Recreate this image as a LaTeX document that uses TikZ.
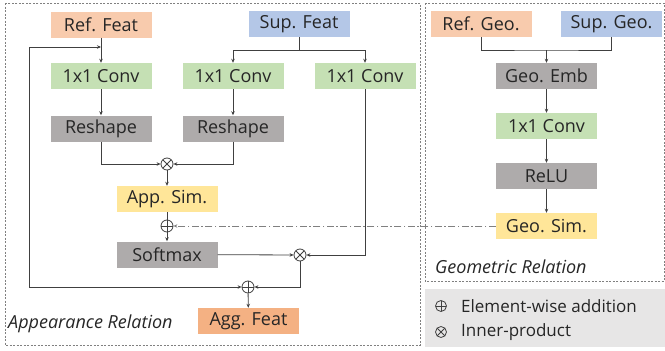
\documentclass[tikz,border=0pt]{standalone}
\usepackage{fontspec}
\setmainfont{Open Sans}
\usetikzlibrary{arrows.meta,calc}
\definecolor{cref}{HTML}{F8CBAD}
\definecolor{csup}{HTML}{B4C7E7}
\definecolor{cgreen}{HTML}{C5E0B4}
\definecolor{cgray}{HTML}{AEABAB}
\definecolor{cyel}{HTML}{FFE699}
\definecolor{cagg}{HTML}{F4B183}
\definecolor{cleg}{HTML}{E7E6E6}
\definecolor{cline}{HTML}{404040}
\definecolor{ctext}{HTML}{262626}
\tikzset{
  blk/.style={minimum width=101pt,minimum height=26pt,inner sep=0pt,font=\fontsize{18}{20}\selectfont,text=ctext},
  arr/.style={draw=cline,line width=0.8pt,-{Stealth[length=4pt,width=3.5pt]}},
  ln/.style={draw=cline,line width=0.8pt},
  opl/.style={circle,draw=cline,line width=0.8pt,minimum size=12pt,inner sep=0pt,
    path picture={\draw[cline,line width=0.8pt] (path picture bounding box.north)--(path picture bounding box.south)
      (path picture bounding box.east)--(path picture bounding box.west);}},
  otm/.style={circle,draw=cline,line width=0.8pt,minimum size=12pt,inner sep=0pt,
    path picture={\draw[cline,line width=0.8pt]
      ([shift={(45:7pt)}]path picture bounding box.center)--([shift={(225:7pt)}]path picture bounding box.center)
      ([shift={(135:7pt)}]path picture bounding box.center)--([shift={(315:7pt)}]path picture bounding box.center);}},
  dbox/.style={draw=gray,line width=0.7pt,dash pattern=on 2pt off 1.5pt},
  lbl/.style={font=\fontsize{18}{20}\selectfont\itshape,text=ctext,anchor=west,inner sep=0pt},
  leg/.style={font=\fontsize{17}{19}\selectfont,text=ctext,anchor=west,inner sep=0pt},
}
\begin{document}
\begin{tikzpicture}[x=1pt,y=-1pt]
\useasboundingbox (0,0) rectangle (665,351);
% frames
\draw[dbox] (5,3) rectangle (420,345);
\draw[dbox] (425,3) rectangle (664,281);
\fill[cleg] (425,289) rectangle (665,347);
% appearance nodes
\node[blk,fill=cref] (ref) at (101,24.5) {Ref. Feat};
\node[blk,fill=csup] (sup) at (299,24) {Sup. Feat};
\node[blk,fill=cgreen] (conv1) at (101,76) {1x1 Conv};
\node[blk,fill=cgreen] (conv2) at (233,76) {1x1 Conv};
\node[blk,fill=cgreen] (conv3) at (365,76) {1x1 Conv};
\node[blk,fill=cgray] (resh1) at (101,128.5) {Reshape};
\node[blk,fill=cgray] (resh2) at (233,128.5) {Reshape};
\node[otm] (ot1) at (167,164) {};
\node[blk,fill=cyel] (app) at (167,199) {App. Sim.};
\node[opl] (op1) at (167,226) {};
\node[blk,fill=cgray] (soft) at (167,254.5) {Softmax};
\node[otm] (ot2) at (300,255) {};
\node[opl] (op2) at (248,287) {};
\node[blk,fill=cagg] (agg) at (248.5,321) {Agg. Feat};
\node[lbl] (applbl) at (8,324) {Appearance Relation};
% geometric nodes
\node[blk,fill=cref] (refgeo) at (481,24) {Ref. Geo.};
\node[blk,fill=csup] (supgeo) at (611.5,24) {Sup. Geo.};
\node[blk,fill=cgray] (geoemb) at (546.5,76) {Geo. Emb};
\node[blk,fill=cgreen] (gconv) at (546.5,126) {1x1 Conv};
\node[blk,fill=cgray] (relu) at (546.5,176) {ReLU};
\node[blk,fill=cyel] (geosim) at (546.5,226) {Geo. Sim.};
\node[lbl] (geolbl) at (435,267) {Geometric Relation};
% legend
\node[opl,minimum size=11pt] (lop) at (441,306) {};
\node[otm,minimum size=11pt] (lot) at (441,332) {};
\node[leg] (lt1) at (461,306) {Element-wise addition};
\node[leg] (lt2) at (461,332) {Inner-product};
% coordinates
\coordinate (sj) at (299,50);
\coordinate (fbtop) at (101,47);
\coordinate (fbl) at (29,47);
\coordinate (gj) at (546.5,50);
% appearance connectors
\draw[arr] (ref) -- (conv1);
\draw[arr] (fbl) -- (fbtop);
\draw[arr] (fbl) |- (op2);
\draw[ln] (sup) -- (sj);
\draw[arr] (sj) -| (conv2);
\draw[arr] (sj) -| (conv3);
\draw[arr] (conv1) -- (resh1);
\draw[arr] (conv2) -- (resh2);
\draw[arr] (resh1) |- (ot1);
\draw[arr] (resh2) |- (ot1);
\draw[arr] (ot1) -- (app);
\draw[ln] (app) -- (op1);
\draw[arr] (op1) -- (soft);
\draw[arr] (soft) -- (ot2);
\draw[arr] (conv3) |- (ot2);
\draw[arr] (ot2) |- (op2);
\draw[arr] (op2) -- (agg);
\draw[arr,draw=gray,dash pattern=on 7pt off 2.5pt on 1.5pt off 2.5pt] (geosim) -- (op1);
% geometric connectors
\draw[ln] (refgeo) |- (gj) -| (supgeo);
\draw[arr] (gj) -- (geoemb);
\draw[arr] (geoemb) -- (gconv);
\draw[arr] (gconv) -- (relu);
\draw[arr] (relu) -- (geosim);
\end{tikzpicture}
\end{document}
